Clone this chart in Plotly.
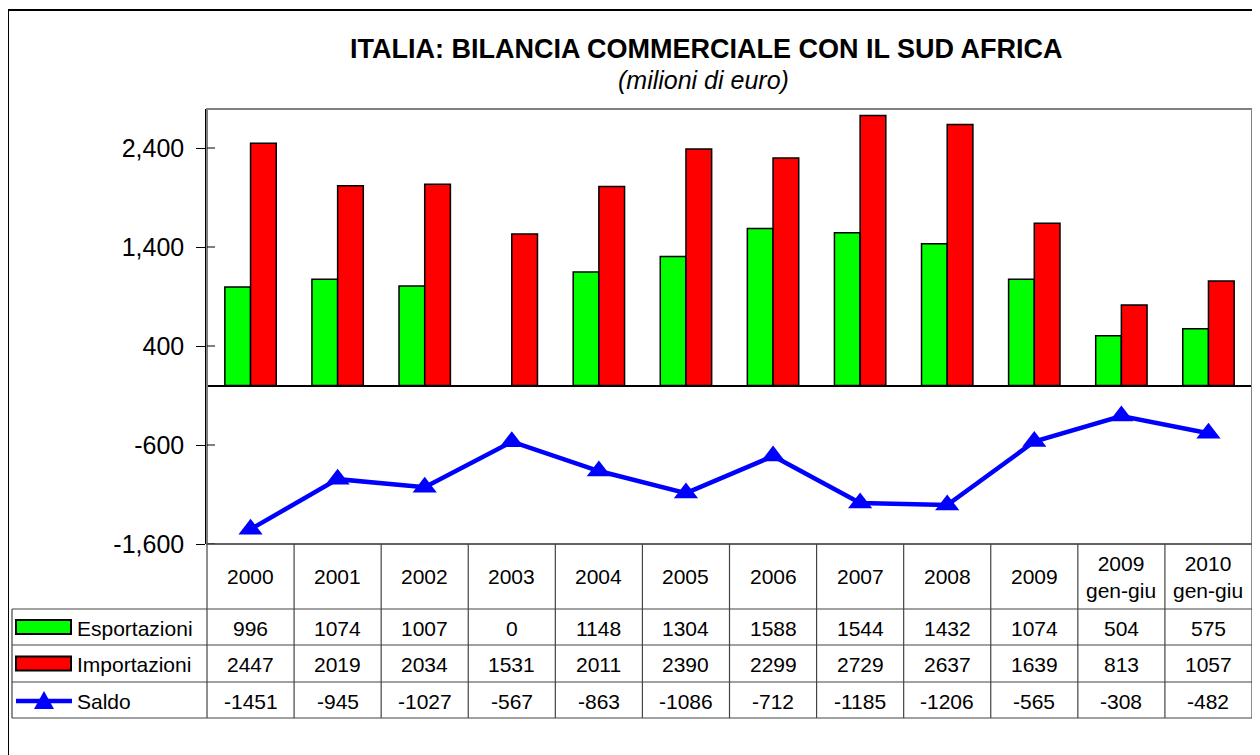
import plotly.graph_objects as go

categories = ["2000", "2001", "2002", "2003", "2004", "2005", "2006", "2007", "2008", "2009",
              "2009<br>gen-giu", "2010<br>gen-giu"]
esportazioni = [996, 1074, 1007, 0, 1148, 1304, 1588, 1544, 1432, 1074, 504, 575]
importazioni = [2447, 2019, 2034, 1531, 2011, 2390, 2299, 2729, 2637, 1639, 813, 1057]
saldo = [-1451, -945, -1027, -567, -863, -1086, -712, -1185, -1206, -565, -308, -482]
y_ticks = [-1600, -600, 400, 1400, 2400]
y_ticktext = ["-1,600", "-600", "400", "1,400", "2,400"]
series_names = ["Esportazioni", "Importazioni", "Saldo"]

OFF = 8  # page body margin
W, H = 1260 - OFF, 755 - OFF
L, R, T, B = 207, 1252, 109, 544  # plot area in screen pixels
FONT = "Liberation Sans, Arial, sans-serif"


def px(x):
    return (x - L) / (R - L)


def py(y):
    return (B - y) / (B - T)


xs = list(range(len(categories)))

fig = go.Figure()
fig.add_trace(go.Bar(x=xs, y=esportazioni, name=series_names[0],
                     marker=dict(color="#00FF00",
                                 line=dict(color="black", width=[0 if v == 0 else 1.5 for v in esportazioni]))))
fig.add_trace(go.Bar(x=xs, y=importazioni, name=series_names[1],
                     marker=dict(color="#FF0000", line=dict(color="black", width=1.5))))
fig.add_trace(go.Scatter(x=xs, y=saldo, name=series_names[2], mode="lines+markers",
                         line=dict(color="#0000FF", width=4.5),
                         marker=dict(symbol="triangle-up", size=21, color="#0000FF")))

shapes = []
annotations = []

# outer chart border
shapes.append(dict(type="rect", xref="paper", yref="paper", x0=px(8), x1=px(1290),
                   y0=py(790), y1=py(10), line=dict(color="black", width=2)))
# plot area border
shapes.append(dict(type="rect", xref="paper", yref="paper", x0=0, x1=1, y0=0, y1=1,
                   line=dict(color="#808080", width=2)))
# cross part of the y ticks (inside the plot area)
for tv in y_ticks:
    shapes.append(dict(type="line", xref="paper", yref="y", x0=0, x1=px(L + 8), y0=tv, y1=tv,
                       line=dict(color="black", width=1)))

# data table
row_y = [544, 609, 645, 682, 718]
ncol = len(categories)
colw = (R - L) / ncol
line_style = dict(color="#444444", width=1.2)
shapes.append(dict(type="line", xref="paper", yref="paper", x0=0, x1=1, y0=py(row_y[0]), y1=py(row_y[0]), line=line_style))
for yy in row_y[1:]:
    shapes.append(dict(type="line", xref="paper", yref="paper", x0=px(12), x1=1, y0=py(yy), y1=py(yy), line=line_style))
for i in range(ncol + 1):
    xx = L + i * colw
    shapes.append(dict(type="line", xref="paper", yref="paper", x0=px(xx), x1=px(xx),
                       y0=py(row_y[0]), y1=py(row_y[-1]), line=line_style))
shapes.append(dict(type="line", xref="paper", yref="paper", x0=px(12), x1=px(12),
                   y0=py(row_y[1]), y1=py(row_y[-1]), line=line_style))

TFS = 21
for i, c in enumerate(categories):
    annotations.append(dict(xref="paper", yref="paper", x=px(L + (i + 0.5) * colw),
                            y=py((row_y[0] + row_y[1]) / 2), text=c, showarrow=False,
                            font=dict(family=FONT, size=TFS, color="black"),
                            xanchor="center", yanchor="middle"))
rows = [esportazioni, importazioni, saldo]
for r, vals in enumerate(rows):
    yc = (row_y[r + 1] + row_y[r + 2]) / 2
    for i, v in enumerate(vals):
        annotations.append(dict(xref="paper", yref="paper", x=px(L + (i + 0.5) * colw),
                                y=py(yc + 1), text=str(v), showarrow=False,
                                font=dict(family=FONT, size=TFS, color="black"),
                                xanchor="center", yanchor="middle"))
    annotations.append(dict(xref="paper", yref="paper", x=px(75), y=py(yc + 1),
                            text=series_names[r], showarrow=False,
                            font=dict(family=FONT, size=TFS, color="black"),
                            xanchor="left", yanchor="middle"))

key_colors = ["#00FF00", "#FF0000"]
for r in range(2):
    yc = (row_y[r + 1] + row_y[r + 2]) / 2
    shapes.append(dict(type="rect", xref="paper", yref="paper", x0=px(16), x1=px(71),
                       y0=py(yc + 7), y1=py(yc - 7), fillcolor=key_colors[r],
                       line=dict(color="black", width=2)))
yc = (row_y[3] + row_y[4]) / 2 + 1
shapes.append(dict(type="line", xref="paper", yref="paper", x0=px(16), x1=px(72),
                   y0=py(yc), y1=py(yc), line=dict(color="#0000FF", width=4.5)))
shapes.append(dict(type="path", xref="paper", yref="paper",
                   path=f"M {px(34)} {py(yc + 8)} L {px(54)} {py(yc + 8)} L {px(44)} {py(yc - 10)} Z",
                   fillcolor="#0000FF", line=dict(color="#0000FF", width=0)))

annotations.append(dict(xref="paper", yref="paper", x=px(706), y=py(49),
                        text="<b>ITALIA: BILANCIA COMMERCIALE CON IL SUD AFRICA</b>",
                        showarrow=False, font=dict(family=FONT, size=27, color="black"),
                        xanchor="center", yanchor="middle"))
annotations.append(dict(xref="paper", yref="paper", x=px(703), y=py(80),
                        text="<i>(milioni di euro)</i>",
                        showarrow=False, font=dict(family=FONT, size=25, color="black"),
                        xanchor="center", yanchor="middle"))

top_val = 2400 + (148 - T) / 99 * 1000

fig.update_layout(
    width=W, height=H,
    margin=dict(l=L - OFF, r=W + OFF - R, t=T - OFF, b=H + OFF - B, pad=0),
    paper_bgcolor="white", plot_bgcolor="white",
    barmode="group", bargap=0.41, bargroupgap=0,
    showlegend=False,
    shapes=shapes, annotations=annotations,
    xaxis=dict(range=[-0.5, ncol - 0.5], showticklabels=False, showgrid=False,
               zeroline=False, showline=False, ticks=""),
    yaxis=dict(range=[-1600, top_val], tickvals=y_ticks, ticktext=y_ticktext,
               showgrid=False, zeroline=True, zerolinecolor="black", zerolinewidth=1.5,
               showline=True, linecolor="black", linewidth=1.5,
               ticks="outside", ticklen=9, tickcolor="black", ticklabelstandoff=7,
               tickfont=dict(family=FONT, size=25, color="black")),
)

fig.write_html("out.html")
